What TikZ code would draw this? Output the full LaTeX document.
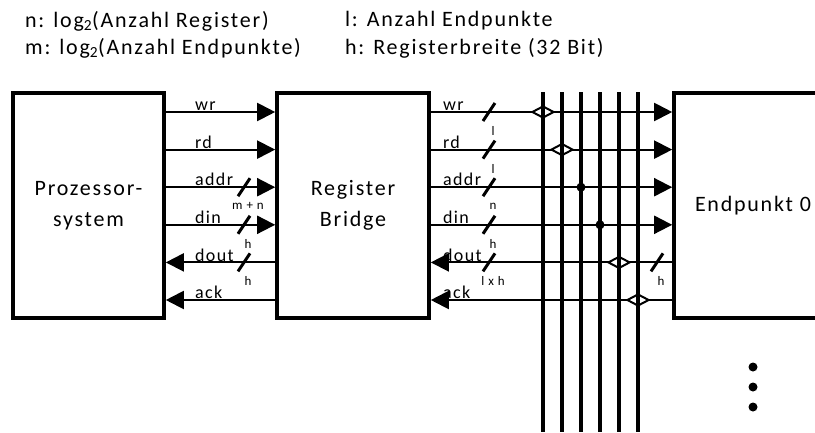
\documentclass[tikz,border=0pt]{standalone}
\usepackage{fontspec}
\setmainfont{Carlito}[LetterSpace=8]
\usetikzlibrary{positioning,arrows.meta,shapes.geometric}

\begin{document}
\begin{tikzpicture}[x=1pt,y=-1pt,
    block/.style={draw, line width=3.6pt, align=center, minimum height=225pt,
      font=\fontsize{22}{31}\selectfont},
    sig/.style={line width=2pt},
    sigarrow/.style={sig, -{Triangle[length=18pt,width=18pt]}},
    bus/.style={line width=3.4pt},
    slash/.style={line width=3pt},
    siglabel/.style={anchor=south west, inner sep=1pt, font=\fontsize{18}{18}\selectfont},
    widthlabel/.style={inner sep=0pt, font=\fontsize{13}{13}\selectfont},
    note/.style={anchor=west, inner sep=0pt, font=\fontsize{22}{22}\selectfont},
    valve/.style={diamond, draw, fill=white, line width=2pt, inner sep=0pt,
      minimum width=22pt, minimum height=12pt}]

  % page size
  \useasboundingbox (0,0) rectangle (815,432);
  \clip (0,0) rectangle (815,432);

  % legend
  \node[note] (leg-n) at (25,21) {n: log\textsubscript{2}(Anzahl Register)};
  \node[note] (leg-m) at (25,48) {m: log\textsubscript{2}(Anzahl Endpunkte)};
  \node[note] (leg-l) at (345,21) {l: Anzahl Endpunkte};
  \node[note] (leg-h) at (345,48) {h: Registerbreite (32 Bit)};

  % blocks
  \node[block, minimum width=151pt] (proc) at (88.5,205.5) {Prozessor-\\system};
  \node[block, minimum width=152pt] (bridge) at (353,205.5) {Register\\Bridge};
  \node[block, minimum width=158pt] (ep) at (753,205.5) {Endpunkt 0};

  % signal rows and bus lines
  \foreach \s [count=\i] in {wr,rd,addr,din,dout,ack}
    \coordinate (\s) at (0,{74.4+37.6*\i});
  \foreach \i in {1,...,6}
    \coordinate (bus\i) at ({524+19*\i},92);

  % processor <-> bridge
  \foreach \s in {wr,rd,addr,din}
    \draw[sigarrow] (proc.east |- \s) -- (bridge.west |- \s);
  \foreach \s in {dout,ack}
    \draw[sigarrow] (bridge.west |- \s) -- (proc.east |- \s);
  \foreach \s in {wr,rd,addr,din,dout,ack}
    \node[siglabel] (pl-\s) at ([xshift=28pt]proc.east |- \s) {\s};

  % bridge <-> endpoint
  \foreach \s in {wr,rd,addr,din}
    \draw[sigarrow] (bridge.east |- \s) -- (ep.west |- \s);
  \foreach \s in {dout,ack}
    \draw[sigarrow] (ep.west |- \s) -- (bridge.east |- \s);
  \foreach \s in {wr,rd,addr,din,dout,ack}
    \node[siglabel] (bl-\s) at ([xshift=11pt]bridge.east |- \s) {\s};

  % bus widths
  \foreach \x/\s/\w in {244/addr/m + n, 244/din/h, 244/dout/h,
      489/wr/l, 489/rd/l, 489/addr/n, 489/din/h, 489/dout/l x h, 657/dout/h} {
    \draw[slash] ([xshift=-6pt,yshift=-9pt]\x,0 |- \s) -- ([xshift=6pt,yshift=9pt]\x,0 |- \s);
    \node[widthlabel] at ([xshift=4pt,yshift=-19pt]\x,0 |- \s) {\w};
  }

  % selectors on the bus
  \foreach \b/\s in {1/wr,2/rd,5/dout,6/ack}
    \node[valve] (v-\s) at (bus\b |- \s) {};
  \foreach \i in {1,...,6}
    \draw[bus] (bus\i) -- (bus\i |- 0,432);
  \fill (bus3 |- addr) circle (4.5pt);
  \fill (bus4 |- din) circle (4.5pt);

  % more endpoints
  \foreach \y in {367,387,407}
    \fill (753,\y) circle (4.5pt);
\end{tikzpicture}
\end{document}
